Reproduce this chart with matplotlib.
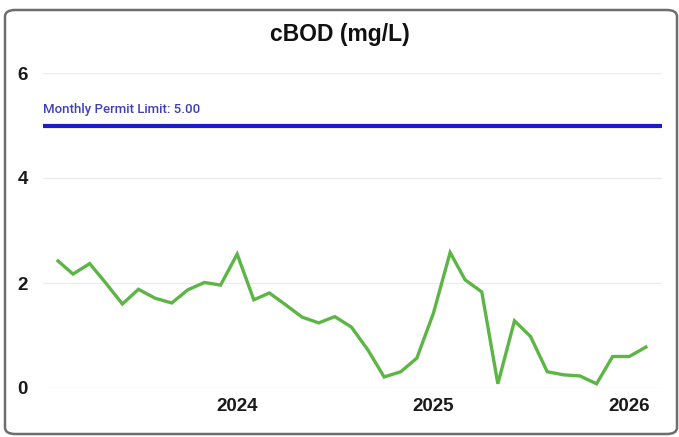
import numpy as np
import pandas as pd
import matplotlib
matplotlib.use('Agg')
import matplotlib.pyplot as plt
import matplotlib.dates as mdates
from matplotlib.patches import FancyBboxPatch

plt.rcParams['font.family'] = ['Liberation Sans', 'DejaVu Sans']

# monthly cBOD results, Feb 2023 - Feb 2026
months = pd.date_range('2023-02-01', '2026-02-01', freq='MS')
cbod = [2.42, 2.17, 2.37, 2.00, 1.60, 1.88, 1.71, 1.62, 1.87, 2.01, 1.96, 2.55,
        1.68, 1.81, 1.58, 1.35, 1.24, 1.36, 1.16, 0.72, 0.21, 0.31, 0.57, 1.43,
        2.58, 2.06, 1.83, 0.08, 1.28, 0.98, 0.31, 0.25, 0.23, 0.08, 0.60, 0.60,
        0.78]
permit_limit = 5.00
year_ticks = ['2024-01-01', '2025-01-01', '2026-01-01']

fig = plt.figure(figsize=(6.79, 4.37), dpi=100)

# rounded card border
card = FancyBboxPatch((5 / 679, 3 / 437), 672 / 679, 424 / 437,
                      boxstyle='round,pad=0,rounding_size=0.015',
                      transform=fig.transFigure, facecolor='white',
                      edgecolor='#6e6e6e', linewidth=1.8, zorder=-5)
fig.patches.append(card)

ax = fig.add_axes([43 / 679, 1 - 388 / 437, 619 / 679, 315 / 437])
ax.set_facecolor('none')

ax.plot(months, cbod, color='#5db546', linewidth=2.4, solid_joinstyle='miter',
        clip_on=False, zorder=3)
ax.axhline(permit_limit, color='#1c1cc8', linewidth=3, zorder=2)
ax.text(0.0, permit_limit + 0.24, 'Monthly Permit Limit: %.2f' % permit_limit,
        transform=ax.get_yaxis_transform(), color='#4040b8', fontsize=9.5,
        family='Roboto', fontweight='medium', ha='left', va='baseline')

ax.set_xlim(months[0] - pd.Timedelta(days=28), months[-1] + pd.Timedelta(days=30))
ax.set_ylim(0, 6)
ax.set_yticks([0, 2, 4, 6])
ax.set_xticks(pd.to_datetime(year_ticks))
ax.xaxis.set_major_formatter(mdates.DateFormatter('%Y'))
ax.grid(axis='y', color='#ececec', linewidth=1)
ax.set_axisbelow(True)
for s in ax.spines.values():
    s.set_visible(False)
ax.tick_params(length=0)
ax.tick_params(axis='y', pad=11)
ax.tick_params(axis='x', pad=7)
for lbl in ax.get_xticklabels() + ax.get_yticklabels():
    lbl.set_fontweight('bold')
    lbl.set_fontsize(13.5)
    lbl.set_color('#1a1a1a')

fig.text(0.5, 1 - 34 / 437, 'cBOD (mg/L)', ha='center', va='center',
         fontsize=16.5, fontweight='bold', color='#111111')

fig.savefig('out.png', dpi=100)
